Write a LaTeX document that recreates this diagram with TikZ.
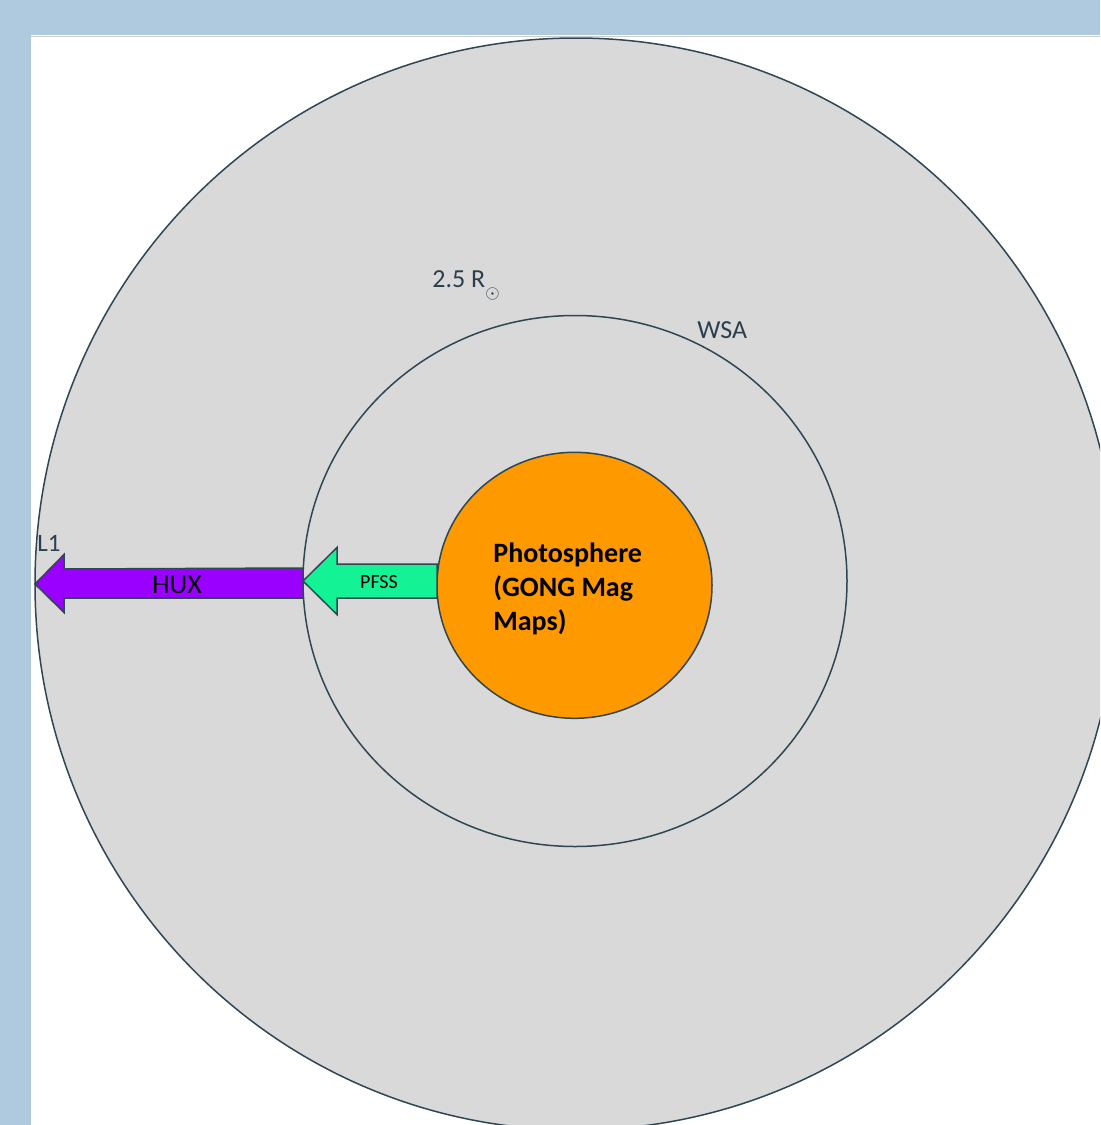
\documentclass[tikz,border=0pt]{standalone}
\usepackage{fontspec}
\setmainfont{Carlito}
\usetikzlibrary{shapes.geometric,calc}
\definecolor{bluebg}{HTML}{AFCADF}
\definecolor{edgec}{HTML}{2F4653}
\definecolor{grayfill}{HTML}{D9D9D9}
\definecolor{sunc}{HTML}{FF9900}
\definecolor{huxc}{HTML}{9900FF}
\definecolor{pfssc}{HTML}{14F296}
\definecolor{labc}{HTML}{2B3F4C}
\tikzset{
  ring/.style={ellipse, draw=edgec, line width=0.75pt, fill=grayfill, inner sep=0pt, outer sep=0pt},
  blockarrow/.style={draw=edgec, line width=0.75pt, line join=miter},
  lab/.style={text=labc, inner sep=0pt, font=\fontsize{13}{15}\selectfont},
}
\begin{document}
\begin{tikzpicture}[x=0.5pt,y=-0.5pt]
\useasboundingbox (0,0) rectangle (1100,1125);
\fill[white] (0,0) rectangle (1100,1125);
\fill[bluebg] (0,0) rectangle (1100,35);
\fill[bluebg] (0,0) rectangle (31,1125);
\draw[line width=0.6pt, black!20] (31,36.4) -- (1100,36.4);
\begin{scope}
\clip (31,37) rectangle (1100,1125);
\node[ring, minimum width=541pt, minimum height=546pt] (outer) at (576,584) {};
\end{scope}
\node[ring, minimum width=272pt, minimum height=265.5pt] (wsa) at (575,581) {};
\node[ring, fill=sunc, minimum width=137.5pt, minimum height=133pt] (sun) at (574.5,585.3) {};
% HUX arrow
\draw[blockarrow, fill=huxc] (outer.west) -- ++(29,-29.5) -- ++(0,14.5) -- (wsa.west |- 0,568) -- (wsa.west |- 0,598) -- (64,598) -- (64,612.5) -- cycle;
% PFSS arrow
\draw[blockarrow, fill=pfssc] (wsa.west) -- ++(34,-33.5) -- ++(0,16.5) -- (sun.west |- 0,564) -- (sun.west |- 0,598) -- (337,598) -- (337,614.5) -- cycle;
\node[inner sep=0pt, anchor=base, font=\fontsize{14}{16}\selectfont] (huxl) at (177,593) {HUX};
\node[inner sep=0pt, anchor=base, font=\fontsize{10}{12}\selectfont] (pfssl) at (379,588.3) {PFSS};
\node[inner sep=0pt, anchor=base west, align=left, font=\fontsize{14}{17}\selectfont\bfseries] (sunl) at (493,630) {Photosphere\\(GONG Mag\\Maps)};
\node[lab, anchor=base west] (rsun) at (432,287) {2.5 R\raisebox{-5.75pt}{\fontsize{9}{9}\selectfont$\odot$}};
\node[lab, anchor=base west] (wsal) at (697,338) {WSA};
\node[lab, anchor=base west, font=\fontsize{12.5}{14}\selectfont] (l1) at (37,551) {L1};
\end{tikzpicture}
\end{document}
